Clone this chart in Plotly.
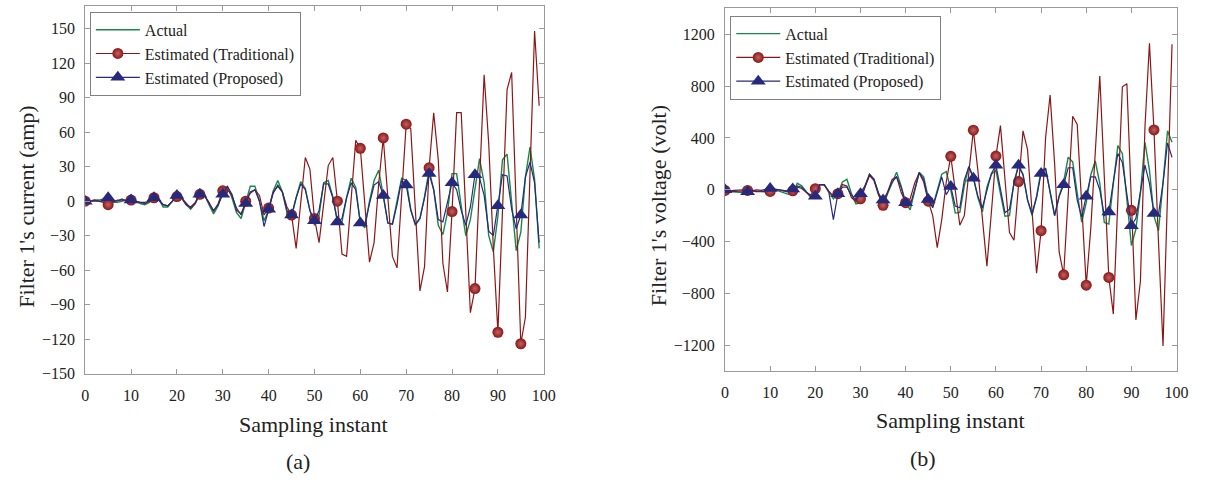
import plotly.graph_objects as go

# ---------------------------------------------------------------------------
# Data
# ---------------------------------------------------------------------------
samples = list(range(100))

current_actual = [
    0, 0, 1, 1, 2, 2, -1, -1, 0, 1,
    1, 0, -2, -3, -1, 3, 2, -5, -5, 0,
    5, 3, -3, -7, -2, 7, 6, -3, -11, -4,
    8, 13, 3, -10, -15, -1, 13, 13, 0, -17,
    -8, 9, 18, 8, -10, -14, 3, 17, 11, -8,
    -21, -12, 16, 18, 4, -17, -18, 3, 20, 12,
    -19, -23, 0, 18, 27, 5, -19, -20, -1, 20,
    18, -7, -21, -15, 4, 27, 10, -21, -29, -10,
    24, 24, -4, -30, -16, 10, 37, 16, -30, -44,
    -13, 36, 41, -1, -43, -27, 21, 47, 19, -41,
]
current_traditional = [
    0, 0, 1, 0, -1, -3, -1, 1, 1, 1,
    1, 0, -1, -2, 0, 3, 2, -3, -4, 0,
    4, 3, -2, -6, -2, 6, 5, -1, -9, -2,
    9, 10, 5, -6, -12, 0, 7, 10, 5, -12,
    -6, 8, 13, 8, -5, -12, -41, 0, 38, 28,
    -15, -36, 0, 31, 38, 0, -46, -48, 2, 53,
    46, 0, -53, -36, 15, 55, 4, -48, -58, 5,
    67, 63, -7, -78, -57, 29, 77, 36, -54, -79,
    -9, 77, 77, -10, -97, -76, 17, 110, 50, -40,
    -114, -8, 97, 112, -5, -124, -101, 24, 148, 83,
]
current_proposed = [
    0, 0, 0, 0, 0, 3, 0, 0, 2, 0,
    1, 0, -1, -1, 0, 3, 1, -3, -4, 0,
    5, 3, -3, -5, -1, 6, 5, -2, -8, -3,
    6, 13, 6, -8, -11, -2, 8, 10, 0, -22,
    -7, 7, 14, 8, -8, -12, 3, 15, 10, -8,
    -17, -8, 15, 15, 3, -18, -15, 3, 16, 10,
    -19, -20, -2, 14, 17, 5, -19, -20, -3, 18,
    14, -8, -20, -15, 3, 24, 10, -16, -18, -1,
    16, 10, -8, -21, -5, 23, 20, 5, -26, -30,
    -4, 23, 22, -7, -24, -12, 21, 34, 16, -36,
]

voltage_actual = [
    -10, -10, -15, -20, -20, -10, -5, -10, -15, -15,
    -5, 0, -10, -25, -35, -25, 50, 30, -20, -60,
    -40, 40, 40, -20, -70, -30, 60, 80, -30, -110,
    -100, 30, 120, 80, -20, -130, -30, 60, 135, 30,
    -100, -155, 0, 135, 100, -60, -130, 0, 120, 140,
    0, -180, -175, 30, 180, 100, -60, -170, 20, 120,
    150, -30, -205, -200, 60, 185, 120, -80, -197, -50,
    150, 164, -25, -200, -50, 60, 252, 215, -25, -250,
    -100, 114, 222, 50, -252, -265, 50, 341, 278, -50,
    -430, -303, -25, 366, 152, -202, -316, 50, 455, 366,
]
voltage_traditional = [
    -5, -10, -15, -10, -10, -5, -10, -15, -15, -10,
    -13, -5, 0, -10, -15, -8, 20, 10, -20, -40,
    8, 40, 35, -10, -50, -30, 40, 30, -60, -90,
    -70, 20, 110, 70, -40, -120, -20, 80, 100, -20,
    -100, -70, 50, 130, 60, -88, -200, -447, -230, 60,
    258, -10, -273, -200, 150, 460, 150, -250, -590, -170,
    260, 495, 80, -330, -390, 63, 455, 310, -170, -644,
    -316, 404, 732, 200, -480, -657, -50, 568, 505, -150,
    -737, -300, 340, 879, 100, -677, -960, -80, 795, 818,
    -159, -1005, -707, 480, 1131, 462, -400, -1207, -40, 1124,
]
voltage_proposed = [
    0, -10, -5, 0, 0, -15, -5, 0, -5, 0,
    10, 5, 0, -5, -10, 5, 30, 20, -20, -50,
    -50, 40, 40, -20, -230, -30, 20, 20, -40, -80,
    -30, 30, 120, 80, -30, -80, -20, 60, 100, 20,
    -100, -120, 0, 130, 80, -76, -139, -20, 100, -38,
    25, -126, -139, 76, 177, 88, -50, -139, 0, 126,
    189, 13, -177, -150, 50, 189, 114, -76, -185, -60,
    126, 164, -25, -200, -50, 38, 170, 170, -80, -210,
    -50, 100, 100, 0, -200, -172, 60, 280, 210, -50,
    -278, -220, 0, 190, 50, -184, -190, 50, 361, 250,
]

sample_ticks = list(range(0, 101, 10))
current_ticks = list(range(-150, 151, 30))
voltage_ticks = list(range(-1200, 1201, 400))

# ---------------------------------------------------------------------------
# Styling
# ---------------------------------------------------------------------------
FONT = "Liberation Serif"
GREEN = "#17874a"
RED = "#8c1616"
NAVY = "#272a7c"
FRAME = "#9a9a9a"
TEXT = "#222222"

# a marker is shown on every fifth sample only
marked = [i for i in samples if i % 5 == 0]
hide_unmarked = dict(marker=dict(opacity=0))
show_marked = dict(marker=dict(opacity=1))

fig = go.Figure()


def add_panel(actual, traditional, proposed, xa, ya, legend):
    fig.add_trace(go.Scatter(
        x=samples, y=actual, mode="lines", name="Actual",
        line=dict(color=GREEN, width=1.4),
        xaxis=xa, yaxis=ya, legend=legend,
    ))
    fig.add_trace(go.Scatter(
        x=samples, y=traditional, mode="lines+markers",
        name="Estimated (Traditional)",
        line=dict(color=RED, width=1.2),
        marker=dict(symbol="circle", size=11, color=RED, opacity=1,
                    gradient=dict(type="radial", color="#c06464"),
                    line=dict(width=0)),
        selectedpoints=marked, selected=show_marked, unselected=hide_unmarked,
        xaxis=xa, yaxis=ya, legend=legend,
    ))
    fig.add_trace(go.Scatter(
        x=samples, y=proposed, mode="lines+markers",
        name="Estimated (Proposed)",
        line=dict(color=NAVY, width=1.2),
        marker=dict(symbol="triangle-up", size=13, color=NAVY, opacity=1,
                    line=dict(width=0)),
        selectedpoints=marked, selected=show_marked, unselected=hide_unmarked,
        xaxis=xa, yaxis=ya, legend=legend,
    ))


add_panel(current_actual, current_traditional, current_proposed,
          "x", "y", "legend")
add_panel(voltage_actual, voltage_traditional, voltage_proposed,
          "x2", "y2", "legend2")

axis_common = dict(
    showline=True, linecolor=FRAME, linewidth=1,
    mirror="ticks", ticks="inside", ticklen=5, tickcolor=FRAME, tickwidth=1,
    showgrid=False, zeroline=False,
    tickfont=dict(family=FONT, size=16, color=TEXT),
)

legend_common = dict(
    xanchor="left", yanchor="top",
    bgcolor="white", bordercolor="#808080", borderwidth=1,
    font=dict(family=FONT, size=16, color=TEXT),
    itemwidth=44, tracegroupgap=0,
)

W, H = 1207, 485


def ann(text, x, y, size=22, angle=0):
    return dict(text=text, x=x / W, y=1 - y / H, xref="paper", yref="paper",
                showarrow=False, textangle=angle,
                font=dict(family=FONT, size=size, color=TEXT),
                xanchor="center", yanchor="middle")


fig.update_layout(
    width=W, height=H,
    margin=dict(l=0, r=0, t=0, b=0),
    paper_bgcolor="white", plot_bgcolor="white",
    xaxis=dict(domain=[82.3 / W, 547 / W], range=[0, 100],
               tickvals=sample_ticks, anchor="y", ticklabelstandoff=7,
               **axis_common),
    yaxis=dict(domain=[1 - 380.7 / H, 1 - 5.9 / H], range=[-150, 170],
               tickvals=current_ticks, anchor="x", ticklabelstandoff=6,
               **axis_common),
    xaxis2=dict(domain=[730.7 / W, 1188.3 / W], range=[0, 100],
                tickvals=sample_ticks, anchor="y2", ticklabelstandoff=7,
                **axis_common),
    yaxis2=dict(domain=[1 - 378.1 / H, 1 - 8.6 / H], range=[-1400, 1400],
                tickvals=voltage_ticks, anchor="x2", ticklabelstandoff=6,
                **axis_common),
    legend=dict(x=87 / W, y=1 - 12 / H, **legend_common),
    legend2=dict(x=736 / W, y=1 - 16 / H, **legend_common),
    annotations=[
        ann("Filter 1's current (amp)", 22, 210, angle=-90),
        ann("Sampling instant", 314, 433),
        ann("(a)", 298, 470),
        ann("Filter 1's voltage (volt)", 663, 210, angle=-90),
        ann("Sampling instant", 959, 428),
        ann("(b)", 931, 467),
    ],
)

fig.write_html("out.html")
